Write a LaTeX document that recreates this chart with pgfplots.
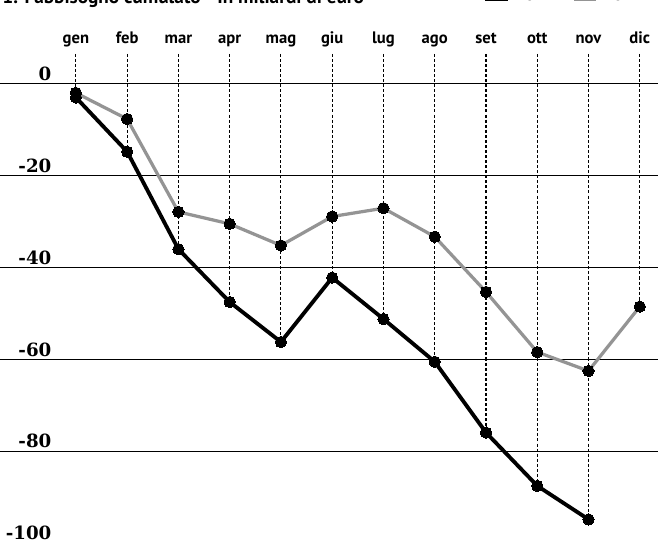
\documentclass[border=0pt]{standalone}
\usepackage{fontspec}
\usepackage{pgfplots}
\pgfplotsset{compat=1.18}
\newfontfamily\sansb{PT Sans}
\newfontfamily\serifb{DejaVu Serif}
\begin{document}
\begin{tikzpicture}
\path[use as bounding box, clip] (0,0) rectangle (325pt,267pt);
\begin{axis}[at={(0,0)}, anchor=south west, scale only axis,
  width=325pt, height=267pt,
  xmin=-1.48, xmax=11.355, ymin=-99.4, ymax=18.2,
  axis line style={draw=none}, major tick length=0pt,
  xtick=\empty, ytick={0,-20,-40,-60,-80}, yticklabels={},
  ymajorgrids, grid style={black, line width=0.6pt},
  clip=false]
% dashed drop lines from month labels
\addplot[black, line width=0.5pt, dash pattern=on 1.5pt off 1pt, unbounded coords=jump] coordinates {
 (0,6.5)(0,-3) (0,nan)
 (1,6.5)(1,-14.8) (1,nan)
 (2,6.5)(2,-36) (2,nan)
 (3,6.5)(3,-47.5) (3,nan)
 (4,6.5)(4,-56.2) (4,nan)
 (5,6.5)(5,-42.2) (5,nan)
 (6,6.5)(6,-51.2) (6,nan)
 (7,6.5)(7,-60.5) (7,nan)
 (8,6.5)(8,-75.9) (8,nan)
 (9,6.5)(9,-87.5) (9,nan)
 (10,6.5)(10,-94.8) (10,nan)
 (11,6.5)(11,-48.5)
};
% grey series
\addplot[black!42, line width=1.6pt, mark=*, mark size=2.8pt,
  mark options={fill=black, draw=black, line width=0pt}] coordinates {
 (0,-2)(1,-7.7)(2,-27.9)(3,-30.5)(4,-35.2)(5,-28.9)(6,-27.1)(7,-33.3)(8,-45.3)(9,-58.4)(10,-62.5)(11,-48.5)
};
% black series
\addplot[black, line width=1.9pt, mark=*, mark size=2.8pt,
  mark options={fill=black, draw=black, line width=0pt}] coordinates {
 (0,-3)(1,-14.8)(2,-36)(3,-47.5)(4,-56.2)(5,-42.2)(6,-51.2)(7,-60.5)(8,-75.9)(9,-87.5)(10,-94.8)
};
% y labels
\pgfplotsinvokeforeach{0,-20,-40,-60,-80,-100}{
  \node[anchor=base east, inner sep=0pt, font=\serifb\bfseries\fontsize{9}{9}\selectfont] at (axis cs:-0.47,#1+0.75) {#1};
}
% month labels
\tikzset{mlab/.style={anchor=base, inner sep=0pt, font=\sansb\bfseries\fontsize{8.2}{8.2}\selectfont}}
\node[mlab] at (axis cs:0,8.7) {gen};
\node[mlab] at (axis cs:1,8.7) {feb};
\node[mlab] at (axis cs:2,8.7) {mar};
\node[mlab] at (axis cs:3,8.7) {apr};
\node[mlab] at (axis cs:4,8.7) {mag};
\node[mlab] at (axis cs:5,8.7) {giu};
\node[mlab] at (axis cs:6,8.7) {lug};
\node[mlab] at (axis cs:7,8.7) {ago};
\node[mlab] at (axis cs:8,8.7) {set};
\node[mlab] at (axis cs:9,8.7) {ott};
\node[mlab] at (axis cs:10,8.7) {nov};
\node[mlab] at (axis cs:11,8.7) {dic};
% title (cut by the top edge as in the reference)
\node[anchor=base west, inner sep=0pt, font=\sansb\bfseries\fontsize{9.5}{9.5}\selectfont] at (axis cs:-1.44,17.43) {1. Fabbisogno cumulato - In miliardi di euro};
\draw[black, line width=2pt] (axis cs:7.98,18.42) -- (axis cs:8.43,18.42);
\node[anchor=base west, inner sep=0pt, font=\sansb\bfseries\fontsize{9.5}{9.5}\selectfont] at (axis cs:8.53,18.0) {2012};
\draw[black!42, line width=2pt] (axis cs:9.72,18.42) -- (axis cs:10.15,18.42);
\node[anchor=base west, inner sep=0pt, font=\sansb\bfseries\fontsize{9.5}{9.5}\selectfont] at (axis cs:10.25,18.0) {2011};
\end{axis}
\end{tikzpicture}
\end{document}
